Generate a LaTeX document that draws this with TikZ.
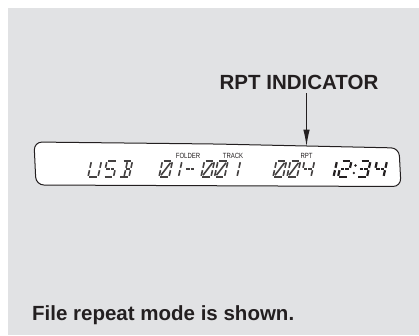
\documentclass[tikz,border=0pt]{standalone}
\usepackage{fontspec}
\setmainfont{Liberation Sans}
\usetikzlibrary{arrows.meta, positioning}
\definecolor{rptPanel}{HTML}{E1E2E4}
\definecolor{rptInk}{HTML}{231F20}
\tikzset{
  rpt/heading/.style = {font=\fontsize{20.5}{24}\selectfont\bfseries, text=rptInk, inner sep=0pt},
  rpt/tag/.style     = {font=\fontsize{7.5}{8}\selectfont, text=rptInk, inner sep=0pt, xscale=0.8},
  rpt/lcd/.style     = {draw=rptInk, line width=1pt, fill=white, rounded corners=8pt},
  rpt/seg/.style     = {draw=rptInk!85, line width=1.6pt},
  rpt/segbold/.style = {draw=rptInk, line width=2.2pt},
  rpt/arrow/.style   = {-{Latex[length=17pt, width=6.5pt]}, line width=1.3pt, draw=rptInk},
}
% --- segments of one LCD cell (10 wide, 16 high, y down) ---
\def\lcdsega {(1.2,0) -- (8.8,0)}
\def\lcdsegb {(10,1.2) -- (10,6.8)}
\def\lcdsegc {(10,9.2) -- (10,14.8)}
\def\lcdsegd {(1.2,16) -- (8.8,16)}
\def\lcdsege {(0,9.2) -- (0,14.8)}
\def\lcdsegf {(0,1.2) -- (0,6.8)}
\def\lcdseggl{(1.2,8) -- (4.6,8)}
\def\lcdseggr{(5.4,8) -- (8.8,8)}
\def\lcdsegm {(5,1.2) -- (5,6.8)}
\def\lcdsegn {(5,9.2) -- (5,14.8)}
\def\lcdsegk {(8.4,1.8) -- (1.6,14.2)}
\newcommand{\lcdchar}[4]{% x, y of cell top-left, style, segments
  \begin{scope}[shift={(#1,#2)}, xslant=0.22]
    \foreach \s in {#4} {
      \expandafter\let\expandafter\lcdpath\csname lcdseg\s\endcsname
      \draw[#3] \lcdpath;
    }
  \end{scope}}
\begin{document}
\begin{tikzpicture}[x=1pt, y=-1pt]
  % --- page and grey panel ---
  \useasboundingbox (0,0) rectangle (419,335);
  \fill[white] (0,0) rectangle (419,335);
  \fill[rptPanel] (8,8) rectangle (419,335);
  % --- display window ---
  \path[rpt/lcd] (215,144) -- (399,148) -- (401,186.5) -- (36,185) -- (34,142) -- cycle;
  % --- small labels above the digits ---
  \node[rpt/tag, anchor=base] (tagFolder) at (188,158) {FOLDER};
  \node[rpt/tag, anchor=base] (tagTrack)  at (233,158) {TRACK};
  \node[rpt/tag, anchor=base] (tagRpt)    at (306.5,158) {RPT};
  % --- USB ---
  \lcdchar{91.5}{161}{rpt/seg}{b,c,d,e,f}
  \lcdchar{107}{161}{rpt/seg}{a,f,gl,gr,c,d}
  \lcdchar{122.5}{161}{rpt/seg}{a,b,c,d,gr,m,n}
  % --- 01-001 ---
  \lcdchar{162.5}{161}{rpt/seg}{a,b,c,d,e,f,k}
  \lcdchar{172}{161}{rpt/seg}{b,c}
  \lcdchar{187}{161}{rpt/seg}{gl,gr}
  \lcdchar{204.5}{161}{rpt/seg}{a,b,c,d,e,f,k}
  \lcdchar{218}{161}{rpt/seg}{a,b,c,d,e,f,k}
  \lcdchar{230.5}{161}{rpt/seg}{b,c}
  % --- 004 ---
  \lcdchar{276.5}{161}{rpt/seg}{a,b,c,d,e,f,k}
  \lcdchar{290.5}{161}{rpt/seg}{a,b,c,d,e,f,k}
  \lcdchar{304.5}{161}{rpt/seg}{b,c,f,gl,gr}
  % --- clock 12:34 ---
  \lcdchar{327}{161}{rpt/segbold}{b,c}
  \lcdchar{341.5}{161}{rpt/segbold}{a,b,gl,gr,e,d}
  \fill[rptInk] (355.5,165.5) circle (1.3) (353.8,173) circle (1.3);
  \lcdchar{360.5}{161}{rpt/segbold}{a,b,gl,gr,c,d}
  \lcdchar{377}{161}{rpt/segbold}{b,c,f,gl,gr}
  % --- headings ---
  \node[rpt/heading, anchor=base] (heading) at (299,89) {RPT INDICATOR};
  \node[rpt/heading, anchor=base west] (caption) at (32,320) {File repeat mode is shown.};
  % --- indicator arrow ---
  \draw[rpt/arrow, shorten <=4pt, shorten >=6pt] (heading.south -| tagRpt) -- (tagRpt.north);
\end{tikzpicture}
\end{document}
